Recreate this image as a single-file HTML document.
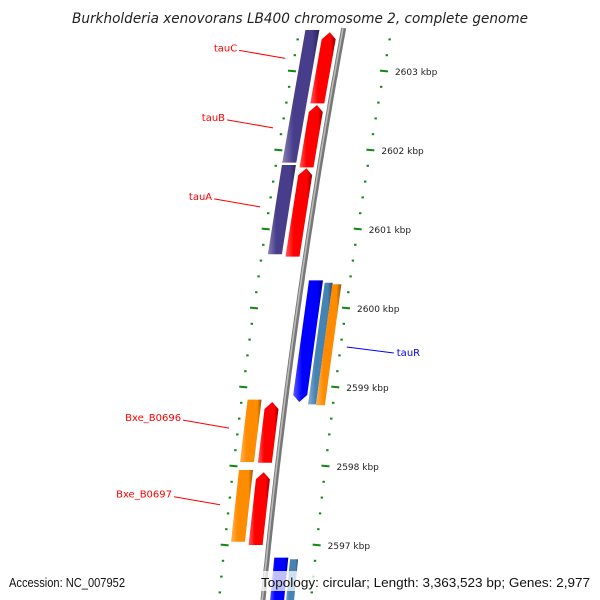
<!DOCTYPE html>
<html><head><meta charset="utf-8"><style>
html,body{margin:0;padding:0;background:#fff}
svg{display:block;font-family:"DejaVu Sans","Liberation Sans",sans-serif}
</style></head><body>
<svg id="chart" width="600" height="600" viewBox="0 0 600 600" xmlns="http://www.w3.org/2000/svg">
<defs>
</defs>
<text x="72" y="23" textLength="456" lengthAdjust="spacingAndGlyphs" font-size="14" font-style="italic" fill="#222">Burkholderia xenovorans LB400 chromosome 2, complete genome</text>
<g id="ticks"></g>
<g id="backbone"></g>
<g id="features"></g>
<g id="labels"></g>
<rect x="5" y="571" width="125" height="20" fill="#fff" fill-opacity="0.75"/>
<rect x="258" y="571" width="337" height="20" fill="#fff" fill-opacity="0.75"/>
<text x="9" y="587" textLength="116" lengthAdjust="spacingAndGlyphs" font-size="13" font-family="Liberation Sans, sans-serif" fill="#111">Accession: NC_007952</text>
<text x="261" y="587" textLength="329" lengthAdjust="spacingAndGlyphs" font-size="13" font-family="Liberation Sans, sans-serif" fill="#111">Topology: circular; Length: 3,363,523 bp; Genes: 2,977</text>
</svg>
<script>
// data
const majorTicks = [2603, 2602, 2601, 2600, 2599, 2598, 2597];
const tickLabels = ["2603 kbp","2602 kbp","2601 kbp","2600 kbp","2599 kbp","2598 kbp","2597 kbp"];
const featStart = [2603.52, 2601.81, 2603.49, 2602.57, 2601.77, 2600.35, 2600.32, 2600.30, 2598.84, 2598.81, 2597.95, 2597.92, 2596.84, 2596.82];
const featEnd   = [2601.84, 2600.68, 2602.59, 2601.78, 2600.65, 2598.81, 2598.78, 2598.77, 2598.05, 2598.04, 2597.04, 2597.00, 2596.0, 2596.0];
const featRing  = ["L2","L2","L1","L1","L1","R1","R2","R3","L2","L1","L2","L1","R1","R2"];
const featColor = ["#483d8b","#483d8b","#ff0000","#ff0000","#ff0000","#0000ff","#4682b4","#ff8c00","#ff8c00","#ff0000","#ff8c00","#ff0000","#0000ff","#4682b4"];
const featArrow = ["none","none","up","up","up","down","none","none","none","up","none","up","none","none"];
const geneNames = ["tauC","tauB","tauA","tauR","Bxe_B0696","Bxe_B0697"];
const genePos   = [2603.16, 2602.28, 2601.28, 2599.43, 2598.48, 2597.51];
const geneSide  = ["L","L","L","R","L","L"];
const geneColor = ["#ff0000","#ff0000","#ff0000","#0000ff","#ff0000","#ff0000"];

// scales
const NS="http://www.w3.org/2000/svg";
function yOf(k){ return 71 + (2603 - k) * 79; }
function bx(y){ return 348.96 - 0.1888*y + 0.000076*y*y; }
const rings = {L2:[-38,-24], L1:[-20,-6], R1:[7,21], R2:[23,31], R3:[31,40]};
function mk(tag, attrs, parent){ const e=document.createElementNS(NS,tag); for(const k in attrs) e.setAttribute(k,attrs[k]); parent.appendChild(e); return e; }
function lighten(hex,f){ const n=parseInt(hex.slice(1),16); let r=n>>16,g=(n>>8)&255,b=n&255; r=Math.round(r+(255-r)*f); g=Math.round(g+(255-g)*f); b=Math.round(b+(255-b)*f); return `rgb(${r},${g},${b})`; }
function darken(hex,f){ const n=parseInt(hex.slice(1),16); let r=n>>16,g=(n>>8)&255,b=n&255; return `rgb(${Math.round(r*f)},${Math.round(g*f)},${Math.round(b*f)})`; }

// backbone
const bb = document.getElementById('backbone');
let pts=[]; for(let y=28;y<=602;y+=4) pts.push((bx(y)).toFixed(1)+","+y);
const bline = mk('polyline',{points:pts.join(' '),fill:'none',stroke:'#777','stroke-width':5},bb);
 
const bline2 = mk('polyline',{points:pts.map(p=>{const [x,y]=p.split(',');return (+x-0.8)+','+y;}).join(' '),fill:'none',stroke:'#bbb','stroke-width':1.6},bb);
 

// ticks
const tg = document.getElementById('ticks');
for(let k=2596.0; k<=2603.61; k+=0.2){
  const kk=Math.round(k*10)/10; const y=yOf(kk); if(y<30||y>600) continue;
  const major = Math.abs(kk-Math.round(kk))<0.01;
  [[-44,'left'],[48,'right']].forEach(([off,side])=>{
    const x=bx(y)+off;
    const t=mk('line',{x1:x-(major?4:1.2),y1:y-(major?0.4:0),x2:x+(major?4:1.2),y2:y+(major?0.4:0),stroke:'#118811','stroke-width':2},tg);
     
  });
}
majorTicks.forEach((k,i)=>{
  const y=yOf(k); const x=bx(y)+59;
  const t=mk('text',{x:x,y:y+4,'font-size':9,fill:'#222'},tg); t.textContent=tickLabels[i];
   
});

// features
const fg=document.getElementById('features');
featStart.forEach((s,i)=>{
  const y1=Math.max(30,yOf(s)), y2=Math.min(605,yOf(featEnd[i]));
  const [o1,o2]=rings[featRing[i]];
  const c=featColor[i];
  const gid='fg'+i;
  const d=mk('linearGradient',{id:gid,x1:0,x2:1,y1:0,y2:0},document.querySelector('defs'));
  mk('stop',{offset:0,'stop-color':lighten(c,0.35)},d); mk('stop',{offset:0.3,'stop-color':c},d);
  mk('stop',{offset:0.8,'stop-color':c},d); mk('stop',{offset:1,'stop-color':darken(c,0.6)},d);
  const ah=7; let p=[];
  const L=(y)=>bx(y)+o1, R=(y)=>bx(y)+o2, M=(y)=>bx(y)+(o1+o2)/2;
  if(featArrow[i]==='up'){ p=[[M(y1),y1],[R(y1+ah),y1+ah],[R(y2),y2],[L(y2),y2],[L(y1+ah),y1+ah]]; }
  else if(featArrow[i]==='down'){ p=[[L(y1),y1],[R(y1),y1],[R(y2-ah),y2-ah],[M(y2),y2],[L(y2-ah),y2-ah]]; }
  else { p=[[L(y1),y1],[R(y1),y1],[R(y2),y2],[L(y2),y2]]; }
  const f=mk('polygon',{points:p.map(q=>q[0].toFixed(1)+','+q[1].toFixed(1)).join(' '),fill:`url(#${gid})`},fg);
   
});

// gene labels
const lg=document.getElementById('labels');
geneNames.forEach((n,i)=>{
  const y=yOf(genePos[i]);
  if(geneSide[i]==='L'){
    const x2=bx(y)-53, x1=x2-46;
    const l=mk('line',{x1:x1,y1:y-8,x2:x2,y2:y,stroke:geneColor[i],'stroke-width':1},lg);
     
    const t=mk('text',{x:x1-2,y:y-7,'text-anchor':'end','font-size':10,fill:geneColor[i]},lg); t.textContent=n;
     
  } else {
    const x1=bx(y)+55, x2=x1+47;
    const l=mk('line',{x1:x1,y1:y-6,x2:x2,y2:y,stroke:geneColor[i],'stroke-width':1},lg);
     
    const t=mk('text',{x:x2+3,y:y+3,'font-size':10,fill:geneColor[i]},lg); t.textContent=n;
     
  }
});
</script>
</body></html>
